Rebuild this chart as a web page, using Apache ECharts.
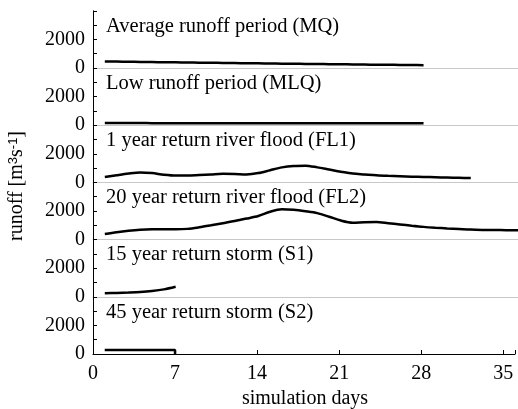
<!DOCTYPE html>
<html>
<head>
<meta charset="utf-8">
<script src="https://cdn.jsdelivr.net/npm/echarts@6/dist/echarts.min.js"></script>
<style>
html, body { margin: 0; padding: 0; background: #fff; }
#chart { width: 518px; height: 409px; }
</style>
</head>
<body>
<div id="chart"></div>
<script>
// panel titles, top to bottom
var panelNames = [
    'Average runoff period (MQ)',
    'Low runoff period (MLQ)',
    '1 year return river flood (FL1)',
    '20 year return river flood (FL2)',
    '15 year return storm (S1)',
    '45 year return storm (S2)'
];

var xTicks = [0, 7, 14, 21, 28, 35];
var yLabels = [0, 2000];

var mqDays = [1, 2, 3, 4, 5, 6, 7, 8, 9, 10, 11, 12, 13, 14, 15, 16, 17, 18, 19, 20, 21, 22, 23, 24, 25, 26, 27, 28];
var mqRunoff = [460, 450, 440, 425, 415, 405, 395, 385, 375, 365, 355, 345, 335, 325, 315, 305, 295, 285, 275, 268, 260, 250, 240, 232, 225, 218, 210, 200];

var mlqDays = [1, 2, 3, 4, 5, 6, 7, 8, 9, 10, 11, 12, 13, 14, 15, 16, 17, 18, 19, 20, 21, 22, 23, 24, 25, 26, 27, 28];
var mlqRunoff = [150, 150, 150, 150, 145, 145, 145, 140, 140, 140, 140, 140, 135, 130, 130, 130, 135, 140, 145, 145, 145, 145, 145, 140, 140, 140, 140, 135];

var fl1Days = [1, 2, 3, 4, 5, 6, 7, 8, 9, 10, 11, 12, 13, 14, 15, 16, 17, 18, 19, 20, 21, 22, 23, 24, 25, 26, 27, 28, 29, 30, 31, 32];
var fl1Runoff = [370, 500, 620, 700, 650, 540, 480, 480, 520, 560, 600, 590, 560, 650, 850, 1050, 1150, 1170, 1050, 900, 750, 620, 560, 500, 460, 430, 400, 380, 360, 340, 320, 300];

var fl2Days = [1, 2, 3, 4, 5, 6, 7, 8, 9, 10, 11, 12, 13, 14, 15, 16, 17, 18, 19, 20, 21, 22, 23, 24, 25, 26, 27, 28, 29, 30, 31, 32, 33, 34, 35, 36];
var fl2Runoff = [390, 520, 620, 690, 720, 720, 720, 750, 860, 1000, 1150, 1300, 1470, 1650, 1950, 2120, 2080, 1980, 1850, 1600, 1330, 1180, 1220, 1230, 1150, 1060, 970, 890, 830, 780, 740, 700, 680, 670, 660, 650];

var s1Days = [1, 2, 3, 4, 5, 6, 7];
var s1Runoff = [250, 270, 300, 340, 410, 520, 700];

var s2Days = [1, 2, 3, 4, 5, 6, 7, 7];
var s2Runoff = [280, 280, 285, 285, 280, 280, 280, 0];

var allDays = [mqDays, mlqDays, fl1Days, fl2Days, s1Days, s2Days];
var allRunoff = [mqRunoff, mlqRunoff, fl1Runoff, fl2Runoff, s1Runoff, s2Runoff];

var font = "'Liberation Serif', 'Times New Roman', serif";
var panelTop = 10.8;
var panelHeight = 57.2;

var grids = [], xAxes = [], yAxes = [], series = [], titles = [];

for (var i = 0; i < panelNames.length; i++) {
    var last = (i === panelNames.length - 1);
    var gridTop = panelTop + panelHeight * i;

    grids.push({ left: 93, right: 0, top: gridTop, height: panelHeight });

    xAxes.push({
        type: 'value',
        gridIndex: i,
        min: 0,
        max: 36,
        interval: 7,
        axisLine: { show: true, lineStyle: { color: last ? '#000' : '#c8c8c8', width: 1 } },
        axisTick: { show: last, inside: true, length: 4, lineStyle: { color: '#000' } },
        axisLabel: {
            show: last,
            margin: 10,
            color: '#000',
            fontFamily: font,
            fontSize: 20,
            formatter: function (v) { return xTicks.indexOf(v) >= 0 ? String(v) : ''; }
        },
        splitLine: { show: false }
    });

    yAxes.push({
        type: 'value',
        gridIndex: i,
        min: 0,
        max: 4000,
        interval: 1000,
        axisLine: { show: true, lineStyle: { color: '#000', width: 1 } },
        axisTick: { show: true, inside: true, length: 4, lineStyle: { color: '#000' } },
        axisLabel: {
            margin: 8,
            color: '#000',
            fontFamily: font,
            fontSize: 20,
            formatter: function (v) { return yLabels.indexOf(v) >= 0 ? String(v) : ''; }
        },
        splitLine: { show: false }
    });

    var pts = [];
    for (var j = 0; j < allDays[i].length; j++) {
        pts.push([allDays[i][j], allRunoff[i][j]]);
    }
    series.push({
        type: 'line',
        xAxisIndex: i,
        yAxisIndex: i,
        data: pts,
        smooth: 0.3,
        symbol: 'none',
        lineStyle: { color: '#000', width: 2.5 }
    });

    titles.push({
        text: panelNames[i],
        left: 106,
        top: gridTop + 5,
        padding: 0,
        textStyle: { color: '#000', fontFamily: font, fontSize: 20.5, fontWeight: 'normal' }
    });
}

var chart = echarts.init(document.getElementById('chart'));
chart.setOption({
    backgroundColor: '#fff',
    animation: false,
    title: titles,
    grid: grids,
    xAxis: xAxes,
    yAxis: yAxes,
    series: series,
    graphic: [{
        type: 'text',
        x: 17,
        y: 186,
        rotation: Math.PI / 2,
        style: {
            text: 'runoff [m{sup|3}s{sup|-1}]',
            fill: '#000',
            fontFamily: font,
            fontSize: 20,
            align: 'center',
            verticalAlign: 'middle',
            rich: {
                sup: { fontSize: 13, verticalAlign: 'top', padding: [0, 0, 6, 0] }
            }
        }
    }, {
        type: 'text',
        x: 305,
        y: 399,
        style: {
            text: 'simulation days',
            fill: '#000',
            fontFamily: font,
            fontSize: 20,
            align: 'center',
            verticalAlign: 'middle'
        }
    }]
});
</script>
</body>
</html>
